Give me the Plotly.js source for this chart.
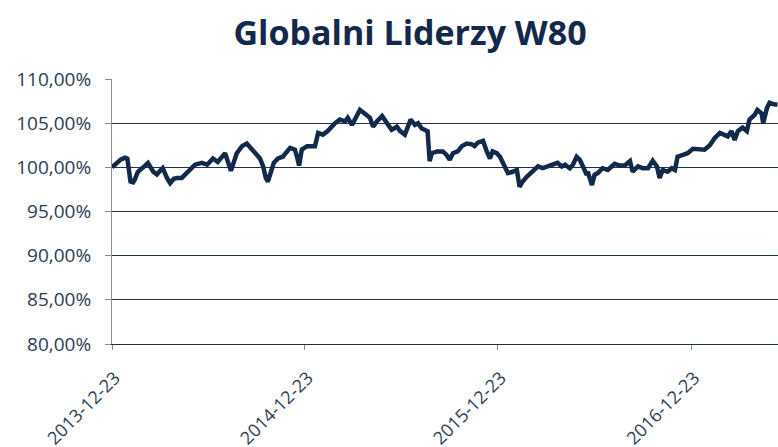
<!DOCTYPE html>
<html>
<head>
<meta charset="utf-8">
<script src="https://cdn.plot.ly/plotly-3.0.1.min.js"></script>
<style>
  html, body { margin: 0; padding: 0; background: #ffffff; }
  #chart { width: 778px; height: 447px; }
</style>
</head>
<body>
<div id="chart"></div>
<script>
const dates = [
  "2013-12-23","2013-12-31","2014-01-09","2014-01-17","2014-01-21","2014-01-27","2014-02-01","2014-02-04",
  "2014-02-10","2014-02-20","2014-03-01","2014-03-11","2014-03-18","2014-03-24","2014-03-29","2014-04-06",
  "2014-04-12","2014-04-19","2014-04-25","2014-05-04","2014-05-10","2014-05-16","2014-05-29","2014-06-11",
  "2014-06-21","2014-07-02","2014-07-11","2014-07-25","2014-07-30","2014-08-05","2014-08-16","2014-08-26",
  "2014-09-04","2014-09-14","2014-09-25","2014-09-29","2014-10-05","2014-10-10","2014-10-14","2014-10-20",
  "2014-10-25","2014-11-02","2014-11-11","2014-11-25","2014-12-04","2014-12-08","2014-12-12","2014-12-17",
  "2014-12-27","2015-01-11","2015-01-17","2015-01-26","2015-02-04","2015-02-18","2015-02-27","2015-03-09",
  "2015-03-14","2015-03-22","2015-03-31","2015-04-06","2015-04-15","2015-04-25","2015-05-01","2015-05-08",
  "2015-05-18","2015-05-27","2015-06-05","2015-06-15","2015-06-21","2015-06-30","2015-07-11","2015-07-19",
  "2015-07-25","2015-08-01","2015-08-07","2015-08-12","2015-08-16","2015-08-20","2015-08-30","2015-09-10",
  "2015-09-17","2015-09-23","2015-09-29","2015-10-08","2015-10-16","2015-10-25","2015-11-04","2015-11-09",
  "2015-11-15","2015-11-25","2015-12-02","2015-12-08","2015-12-13","2015-12-21","2015-12-27","2016-01-05",
  "2016-01-11","2016-01-20","2016-01-28","2016-02-02","2016-02-08","2016-02-16","2016-02-25","2016-03-08",
  "2016-03-17","2016-03-26","2016-04-05","2016-04-14","2016-04-22","2016-04-28","2016-05-07","2016-05-13",
  "2016-05-20","2016-05-26","2016-06-01","2016-06-08","2016-06-10","2016-06-18","2016-06-23","2016-06-29",
  "2016-07-08","2016-07-18","2016-07-31","2016-08-10","2016-08-19","2016-08-29","2016-09-03","2016-09-13",
  "2016-09-22","2016-10-02","2016-10-11","2016-10-19","2016-10-24","2016-10-30","2016-11-08","2016-11-16",
  "2016-11-22","2016-11-27","2016-12-07","2016-12-16","2016-12-26","2017-01-08","2017-01-17","2017-01-27",
  "2017-02-05","2017-02-15","2017-02-24","2017-03-02","2017-03-09","2017-03-15","2017-03-21","2017-03-30",
  "2017-04-07","2017-04-12","2017-04-22","2017-04-27","2017-05-05","2017-05-08","2017-05-15","2017-05-20",
  "2017-05-30","2017-06-04"
];
const values = [
  100.0,100.4,100.9,101.1,101.0,98.4,98.3,98.6,
  99.5,100.0,100.5,99.5,99.2,99.6,99.9,98.8,
  98.2,98.7,98.8,98.8,99.2,99.5,100.3,100.5,
  100.3,101.0,100.6,101.6,100.6,99.6,101.6,102.4,
  102.7,102.0,101.2,101.0,100.1,98.8,98.4,99.5,
  100.5,101.0,101.2,102.2,102.0,101.2,100.2,102.0,
  102.4,102.4,103.9,103.7,104.1,105.0,105.4,105.2,
  105.6,104.8,105.8,106.5,106.1,105.6,104.6,105.2,
  105.8,105.0,104.25,104.6,104.1,103.7,105.4,104.8,
  105.0,104.4,104.25,104.1,100.7,101.6,101.8,101.8,
  101.4,100.85,101.6,101.8,102.4,102.7,102.6,102.4,
  102.8,103.0,101.8,101.0,101.8,101.6,101.2,99.9,
  99.35,99.5,99.7,97.8,98.4,98.95,99.5,100.1,
  99.9,100.1,100.3,100.5,100.1,100.3,99.9,100.3,
  101.2,100.85,100.1,99.15,99.5,98.0,99.15,99.35,
  99.9,99.7,100.4,100.2,100.2,100.7,99.5,100.1,
  99.9,99.9,100.75,100.1,98.8,99.7,99.5,99.9,
  99.7,101.2,101.4,101.6,102.1,102.0,102.0,102.5,
  103.3,103.9,103.7,103.5,104.1,103.1,104.1,104.5,
  104.1,105.4,105.95,106.5,106.1,105.0,106.7,107.3,
  107.1,107.1
];
const yTickVals = [80, 85, 90, 95, 100, 105, 110];
const yTickText = ["80,00%","85,00%","90,00%","95,00%","100,00%","105,00%","110,00%"];
const xTickVals = ["2013-12-23","2014-12-23","2015-12-23","2016-12-23"];
const xTickText = ["2013-12-23","2014-12-23","2015-12-23","2016-12-23"];
const chartTitle = "Globalni Liderzy W80";

const trace = {
  x: dates, y: values, type: "scatter", mode: "lines",
  line: { color: "#13294b", width: 4.5 },
  hoverinfo: "skip"
};

const layout = {
  width: 778, height: 447,
  margin: { l: 112, r: 0, t: 79, b: 103, pad: 0 },
  paper_bgcolor: "#ffffff", plot_bgcolor: "#ffffff",
  showlegend: false,
  title: {
    text: "<b>" + chartTitle + "</b>",
    font: { family: "Open Sans, sans-serif", size: 34, color: "#13294b" },
    xref: "container", yref: "container",
    x: 0.527, xanchor: "center", y: 0.926, yanchor: "middle"
  },
  xaxis: {
    type: "date",
    range: ["2013-12-23", "2017-06-05"],
    tickmode: "array", tickvals: xTickVals, ticktext: xTickText,
    tickangle: -45,
    tickfont: { family: "Open Sans, sans-serif", size: 18, color: "#2c3e55" },
    ticks: "outside", ticklen: 5, tickcolor: "#8c8c8c", tickwidth: 1,
    ticklabelstandoff: 10, ticklabelshift: 3,
    showgrid: false, zeroline: false,
    showline: true, linecolor: "#1f3350", linewidth: 1.3,
    fixedrange: true
  },
  yaxis: {
    range: [80, 110],
    tickmode: "array", tickvals: yTickVals, ticktext: yTickText,
    tickfont: { family: "Open Sans, sans-serif", size: 19, color: "#2c3e55" },
    ticks: "outside", ticklen: 6, tickcolor: "#8c8c8c", tickwidth: 1,
    ticklabelstandoff: 10,
    showgrid: true, gridcolor: "#1f3350", gridwidth: 1.3,
    zeroline: false,
    showline: true, linecolor: "#8c8c8c", linewidth: 1,
    fixedrange: true
  }
};

Plotly.newPlot("chart", [trace], layout, { staticPlot: true, displayModeBar: false });
</script>
</body>
</html>
